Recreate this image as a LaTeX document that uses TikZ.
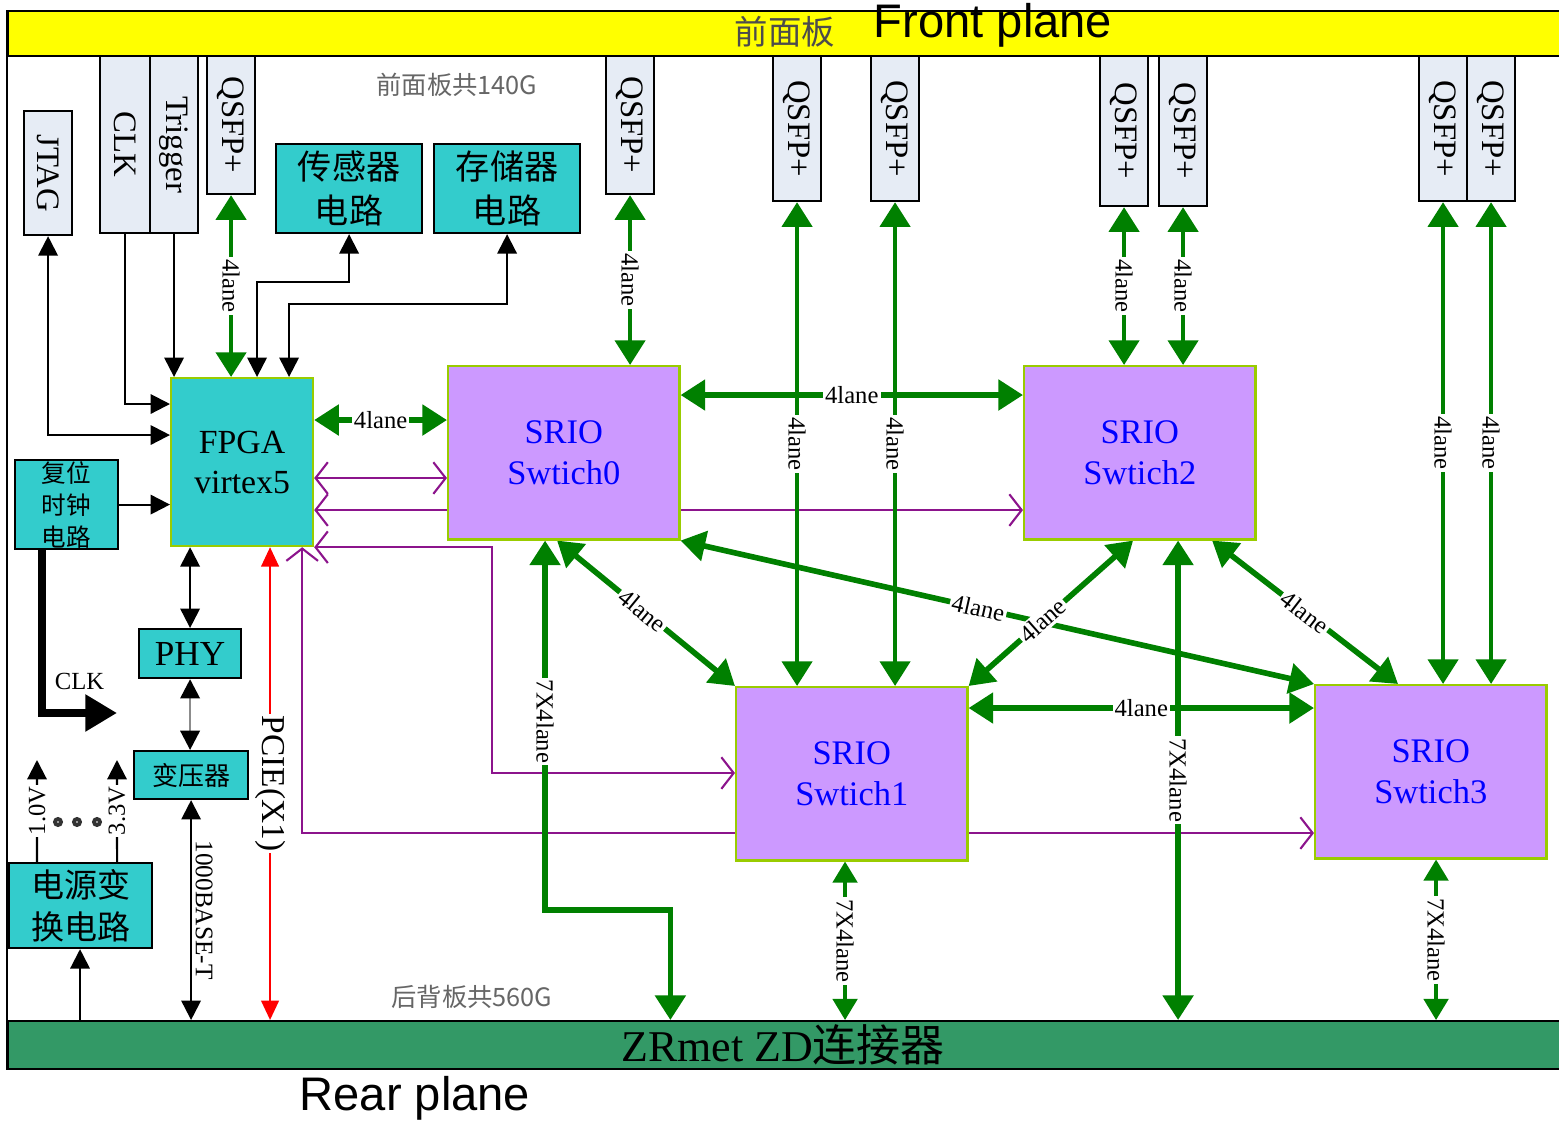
\documentclass[tikz,border=0pt]{standalone}
\usepackage{fontspec}
\usepackage{graphicx}
\setmainfont{Liberation Serif}
\newfontfamily\cjk{Noto Sans CJK SC}
\newfontfamily\arial{Liberation Sans}
\usetikzlibrary{arrows.meta, positioning, calc, backgrounds}
\definecolor{frontyellow}{RGB}{255,255,0}
\definecolor{reargreen}{RGB}{51,153,102}
\definecolor{tealbox}{RGB}{51,204,204}
\definecolor{srioviolet}{RGB}{204,153,255}
\definecolor{limeedge}{RGB}{153,204,0}
\definecolor{portgray}{RGB}{230,236,245}
\definecolor{lanegreen}{RGB}{0,128,0}
\definecolor{buspurple}{RGB}{140,20,140}
\newcommand{\fsz}[2]{\fontsize{#1}{#2}\selectfont}
\tikzset{
  plane/.style={rectangle, draw=black, line width=0.7pt, inner sep=0pt,
                anchor=north west, minimum width=15.6cm},
  port/.style={rectangle, draw=black, fill=portgray, line width=0.6pt,
               inner sep=0pt, anchor=north west, minimum width=0.48cm,
               font=\fsz{9.3}{10}},
  circuit/.style={rectangle, draw=black, fill=tealbox, line width=0.6pt,
                  inner sep=0pt, anchor=north west, align=center},
  srio/.style={rectangle, draw=limeedge, fill=srioviolet, line width=0.7pt,
               anchor=north west, minimum width=2.31cm, minimum height=1.73cm,
               align=center, text=blue, font=\fsz{9.8}{11.4}},
  lane/.style={draw=lanegreen, line width=1.6pt,
               {Triangle[length=7pt,width=8.5pt]}-{Triangle[length=7pt,width=8.5pt]}},
  lanemid/.style={lane, line width=1.3pt},
  lanethin/.style={draw=lanegreen, line width=0.9pt,
                   {Triangle[length=6pt,width=7pt]}-{Triangle[length=6pt,width=7pt]}},
  ctl/.style={draw=black, line width=0.6pt, -{Triangle[length=5.5pt,width=5.5pt]}},
  ctlboth/.style={ctl, {Triangle[length=5.5pt,width=5.5pt]}-{Triangle[length=5.5pt,width=5.5pt]}},
  pcie/.style={draw=red, line width=0.6pt,
               {Triangle[length=5.5pt,width=5pt]}-{Triangle[length=5.5pt,width=5pt]}},
  bus/.style={draw=buspurple, line width=0.6pt,
              {Straight Barb[length=3.5pt,width=9pt]}-{Straight Barb[length=3.5pt,width=9pt]}},
  tag/.style={fill=white, inner sep=0.6pt, font=\fsz{7}{8}},
}

\begin{document}
\begin{tikzpicture}[x=0.01cm, y=-0.01cm]
  \useasboundingbox (0,0) rectangle (1559,1121);

  % front and rear planes
  \node[plane, fill=frontyellow, minimum height=0.45cm] (front) at (7,10) {};
  \node[plane, fill=reargreen, minimum height=0.48cm] (rear) at (7,1020) {};
  \draw[line width=0.7pt] (front.north west) -- (rear.south west);
  \node[text=black!70, font=\cjk\fsz{9.5}{10}] (fronttag) at (785,32) {前面板};
  \node[font=\arial\fsz{13.4}{14}] (fronten) at (993,25) {Front plane};
  \node[text=black!60, font=\cjk\fsz{7.2}{8}] (frontsum) at (457,85) {前面板共140G};
  \node[text=black!60, font=\cjk\fsz{7.2}{8}] (rearsum) at (472,997) {后背板共560G};
  \node[font=\fsz{12.5}{13}] (zd) at (783,1045) {ZRmet ZD{\cjk 连接器}};
  \node[font=\arial\fsz{13.4}{14}] (rearen) at (415,1098) {Rear plane};

  % front ports
  \node[port, minimum height=1.24cm] (jtag) at (23,110) {\rotatebox{-90}{JTAG}};
  \node[port, minimum width=0.50cm, minimum height=1.77cm] (clk) at (99,55) {\rotatebox{-90}{CLK}};
  \node[port, minimum height=1.77cm] (trig) at (149,55) {\rotatebox{-90}{Trigger}};
  \foreach \name/\x/\h in {qsfpa/206/1.38, qsfpb/605/1.38, qsfpc/772/1.45,
                           qsfpd/870/1.45, qsfpe/1099/1.50, qsfpf/1158/1.50,
                           qsfpg/1418/1.45, qsfph/1466/1.45}
    \node[port, minimum height=\h cm] (\name) at (\x,55) {\rotatebox{-90}{QSFP+}};

  % circuits
  \node[circuit, minimum width=1.46cm, minimum height=0.89cm, font=\cjk\fsz{9.7}{12.5}] (sensor) at (275,143) {传感器\\电路};
  \node[circuit, minimum width=1.46cm, minimum height=0.89cm, font=\cjk\fsz{9.7}{12.5}] (storage) at (433,143) {存储器\\电路};
  \node[circuit, draw=limeedge, minimum width=1.42cm, minimum height=1.68cm, font=\fsz{9.6}{11.4}] (fpga) at (170,377) {FPGA\\virtex5};
  \node[circuit, minimum width=1.03cm, minimum height=0.89cm, font=\cjk\fsz{7}{9.1}] (reset) at (14,459) {复位\\时钟\\电路};
  \node[circuit, minimum width=1.02cm, minimum height=0.49cm, font=\fsz{10}{11}] (phy) at (138,628) {PHY};
  \node[circuit, minimum width=1.14cm, minimum height=0.48cm, font=\cjk\fsz{7.4}{8}] (trans) at (133,750) {变压器};
  \node[circuit, minimum width=1.43cm, minimum height=0.85cm, font=\cjk\fsz{9.4}{12}] (power) at (8,862) {电源变\\换电路};

  % SRIO switches
  \node[srio] (sw0) at (447,365) {SRIO\\Swtich0};
  \node[srio] (sw2) at (1023,365) {SRIO\\Swtich2};
  \node[srio] (sw1) at (735,686) {SRIO\\Swtich1};
  \node[srio] (sw3) at (1314,684) {SRIO\\Swtich3};

  % anchor points on the boxes
  \coordinate (f404) at ([yshift=-0.27cm]fpga.north west);
  \coordinate (f435) at ([yshift=-0.58cm]fpga.north west);
  \coordinate (fs257) at ([xshift=0.87cm]fpga.north west);
  \coordinate (fs289) at ([xshift=1.19cm]fpga.north west);
  \coordinate (f420) at ([yshift=-0.43cm]fpga.north east);
  \coordinate (f478) at ([yshift=-1.01cm]fpga.north east);
  \coordinate (f510) at ([yshift=-1.33cm]fpga.north east);
  \coordinate (f300) at ([xshift=-0.12cm]fpga.south east);
  \coordinate (pc) at ([xshift=1.0cm]fpga.south west);
  \coordinate (s0a) at ([yshift=-0.30cm]sw0.north east);
  \coordinate (s0b) at ([xshift=0.98cm]sw0.south west);
  \coordinate (s0d) at ([xshift=1.10cm]sw0.south west);
  \coordinate (s2b) at ([xshift=1.55cm]sw2.south west);
  \coordinate (s2d) at ([xshift=1.10cm]sw2.south west);
  \coordinate (s2e) at ([xshift=1.89cm]sw2.south west);
  \coordinate (s1a) at ([yshift=-0.22cm]sw1.north east);
  \coordinate (s1b) at ([xshift=1.10cm]sw1.south west);
  \coordinate (s1c) at ([yshift=-0.87cm]sw1.north west);
  \coordinate (s3b) at ([xshift=1.22cm]sw3.south west);
  \coordinate (s3c) at ([yshift=-1.49cm]sw3.north west);
  \coordinate (s3e) at ([xshift=0.84cm]sw3.north west);
  \coordinate (r670) at ([xshift=6.63cm]rear.north west);
  \coordinate (rc) at ([xshift=0.28cm]reset.south west);
  \coordinate (clkout) at (117,713);
  \coordinate (pw) at ([xshift=0.72cm]power.south west);
  \coordinate (p1) at ([xshift=0.29cm]power.north west);
  \coordinate (p3) at ([xshift=1.09cm]power.north west);
  \coordinate (v1) at (37,760);
  \coordinate (v3) at (117,760);

  \begin{scope}[on background layer]
    % SRIO buses to the FPGA
    \draw[bus] (f478) -- (f478 -| sw0.west);
    \draw[bus] (f510) -- (f510 -| sw2.west);
    \draw[bus] (fpga.south east) -- ++(1.78cm,0) |- (s1c);
    \draw[bus] (f300) |- (s3c);

    % 4lane links
    \draw[lane] (f420) -- node[tag] {4lane} (f420 -| sw0.west);
    \draw[lanemid] (qsfpa.south) -- node[tag, rotate=-90] {4lane} (qsfpa.south |- fpga.north);
    \foreach \q/\s in {qsfpb/sw0, qsfpc/sw1, qsfpd/sw1, qsfpe/sw2,
                       qsfpf/sw2, qsfpg/sw3, qsfph/sw3}
      \draw[lanemid] (\q.south) -- node[tag, rotate=-90] {4lane} (\q.south |- \s.north);
    \draw[lane] (s0a) -- node[tag] {4lane} (s0a -| sw2.west);
    \draw[lane] (s1a) -- node[tag] {4lane} (s1a -| sw3.west);
    \draw[lane] (s0d) -- node[tag, sloped, pos=0.48] {4lane} (sw1.north west);
    \draw[lane] (sw0.south east) -- node[tag, sloped, pos=0.47] {4lane} (sw3.north west);
    \draw[lane] (s2d) -- node[tag, sloped, pos=0.55] {4lane} (sw1.north east);
    \draw[lane] (s2e) -- node[tag, sloped] {4lane} (s3e);

    % 7X4lane to the rear plane
    \draw[lane] (s0b) -- node[tag, rotate=-90, pos=0.49] {7X4lane} ++(0,-3.69cm) -| (r670);
    \draw[lane] (s2b) -- node[tag, rotate=-90] {7X4lane} (s2b |- rear.north);
    \draw[lanethin] (s1b) -- node[tag, rotate=-90] {7X4lane} (s1b |- rear.north);
    \draw[lanethin] (s3b) -- node[tag, rotate=-90] {7X4lane} (s3b |- rear.north);

    % control lines
    \draw[ctlboth] (jtag.south) |- (f435);
    \draw[ctl] (clk.south) |- (f404);
    \draw[ctl] (trig.south) -- (trig.south |- fpga.north);
    \draw[ctlboth] (sensor.south) -- ++(0,-0.48cm) -| (fs257);
    \draw[ctlboth] (storage.south) -- ++(0,-0.70cm) -| (fs289);
    \draw[ctl] (reset.east) -- (reset.east -| fpga.west);
    \draw[line width=2.3pt, -{Triangle[length=9pt,width=10pt]}] (rc) |- node[pos=0.75, above=2pt, font=\fsz{7}{8}] {CLK} (clkout);
    \draw[ctlboth] (phy.north |- fpga.south) -- (phy.north);
    \draw[draw=black!45, line width=0.8pt,
          {Triangle[length=5.5pt,width=5.5pt,color=black]}-{Triangle[length=5.5pt,width=5.5pt,color=black]}]
      (phy.south) -- (phy.south |- trans.north);
    \draw[ctlboth] (trans.south) -- node[anchor=south, rotate=-90, inner sep=1pt, font=\fsz{7.2}{8}] {1000BASE-T} (trans.south |- rear.north);
    \draw[pcie] (pc) -- node[tag, rotate=-90, font=\fsz{9.5}{10}] {PCIE(X1)} (pc |- rear.north);
    \draw[ctl] (pw |- rear.north) -- (pw);
    \draw[ctl] (p1) -- node[tag, rotate=90] {1.0V} (v1);
    \draw[ctl] (p3) -- node[tag, rotate=90] {3.3V} (v3);
  \end{scope}

  \foreach \x in {58,77,97}
    \draw[line width=1.1pt, black!80] (\x,822) circle[radius=0.03cm];
\end{tikzpicture}
\end{document}
